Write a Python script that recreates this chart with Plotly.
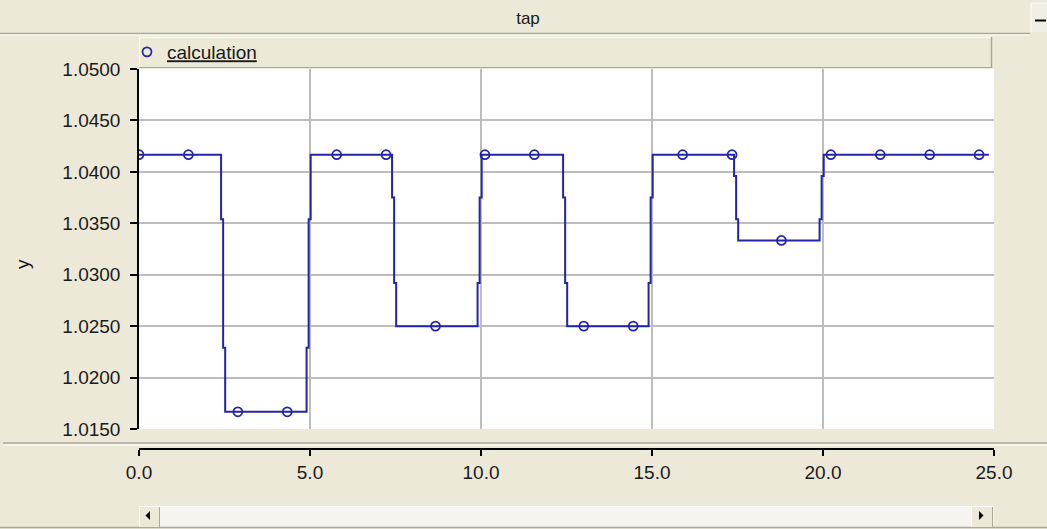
import plotly.graph_objects as go

# ---------------- data ----------------
# plateau levels of the "tap" signal and the times at which it switches
levels = [1.04167, 1.01667, 1.04167, 1.02500, 1.04167, 1.02500, 1.04167, 1.03333, 1.04167]
switch_t = [2.5, 5.0, 7.5, 10.0, 12.5, 15.0, 17.5, 20.0]
# intermediate values visible on each switching edge (two small jogs per edge)
jog1 = [1.0354, 1.0229, 1.0375, 1.0292, 1.0375, 1.0292, 1.0396, 1.0354]
jog2 = [1.0229, 1.0354, 1.0292, 1.0375, 1.0292, 1.0375, 1.0354, 1.0396]
t_start, t_end = 0.0, 24.85
# offsets of the jogs around each switching time
jog_dt = [-0.10, -0.04, 0.02]

# sampled output points (drawn as markers)
marker_x = [0.0, 1.445, 2.89, 4.335, 5.78, 7.225, 8.67, 10.115, 11.56,
            13.005, 14.45, 15.895, 17.34, 18.785, 20.23, 21.675, 23.12, 24.565]
marker_y = [1.04167, 1.04167, 1.01667, 1.01667, 1.04167, 1.04167, 1.02500, 1.04167, 1.04167,
            1.02500, 1.02500, 1.04167, 1.04167, 1.03333, 1.04167, 1.04167, 1.04167, 1.04167]

x_ticks = [0, 5, 10, 15, 20, 25]
y_ticks = [1.015, 1.020, 1.025, 1.030, 1.035, 1.040, 1.045, 1.050]

# ---------------- build step line ----------------
line_x = [t_start]
line_y = [levels[0]]
for i, t in enumerate(switch_t):
    a, b = levels[i], levels[i + 1]
    t1, t2, t3 = t + jog_dt[0], t + jog_dt[1], t + jog_dt[2]
    line_x += [t1, t1, t2, t2, t3, t3]
    line_y += [a, jog1[i], jog1[i], jog2[i], jog2[i], b]
line_x.append(t_end)
line_y.append(levels[-1])

# ---------------- geometry helpers ----------------
W, H = 1047, 529
L, R, T, B = 139, 994, 69, 449      # paper box (px)
PLOT_BOTTOM = 429


def px(x):
    return (x - L) / (R - L)


def py(y):
    return (B - y) / (B - T)


BEIGE = "#ECE9D8"
DARK = "#ACA899"
BLUE = "#2424A8"
GRID = "#BDBDBD"
FONT = "Liberation Sans, Arial, sans-serif"

fig = go.Figure()
fig.add_trace(go.Scatter(x=line_x, y=line_y, mode="lines",
                         line=dict(color=BLUE, width=2), showlegend=False,
                         hoverinfo="skip", xaxis="x", yaxis="y"))
fig.add_trace(go.Scatter(x=marker_x, y=marker_y, mode="markers", name="<u>calculation</u>",
                         marker=dict(symbol="circle-open", size=9, color=BLUE,
                                     line=dict(width=1.7, color=BLUE)),
                         xaxis="x2", yaxis="y"))

shapes = []


def hline(x0, x1, y, color, w=1, layer="below"):
    shapes.append(dict(type="line", xref="paper", yref="paper",
                       x0=px(x0), x1=px(x1), y0=py(y), y1=py(y),
                       line=dict(color=color, width=w), layer=layer))


def vline(x, y0, y1, color, w=1):
    shapes.append(dict(type="line", xref="paper", yref="paper",
                       x0=px(x), x1=px(x), y0=py(y0), y1=py(y1),
                       line=dict(color=color, width=w), layer="below"))


def rect(x0, y0, x1, y1, fill, line_color=None, w=1):
    shapes.append(dict(type="rect", xref="paper", yref="paper",
                       x0=px(x0), x1=px(x1), y0=py(y1), y1=py(y0),
                       fillcolor=fill,
                       line=dict(color=line_color or fill, width=w if line_color else 0),
                       layer="below"))


# title bar bottom edge
hline(0, 1030, 33.5, DARK, 1.5)
hline(0, 1030, 35, "#FFFFFF", 1)
# minimize button
rect(1031, 3, 1047, 32, "#F1EFE4")
vline(1031, 3, 32, "#FFFFFF", 1)
hline(1031, 1047, 3, "#FFFFFF", 1)
hline(1035, 1046, 20.5, "#000000", 2, layer="above")
# legend box
rect(139, 37, 992, 68, BEIGE)
hline(139, 992, 37.5, "#FFFFFF", 1)
vline(139.5, 37, 68, "#FFFFFF", 1)
hline(139, 992, 67.5, DARK, 1)
vline(991.5, 37, 68, DARK, 1.5)
# separator between plot and x-axis strip
hline(3, 1047, 443, DARK, 1.5)
hline(3, 1047, 445, "#FFFFFF", 1)
# scrollbar
rect(139, 506, 994, 527, "#F5F4EF")
hline(139, 994, 506.5, "#FFFFFF", 1)
hline(0, 1047, 527.5, DARK, 1.5)
for bx0, bx1 in [(139, 160), (971, 993)]:
    rect(bx0, 507, bx1, 527, BEIGE)
    vline(bx0 + 0.5, 507, 527, "#FFFFFF", 1)
    vline(bx1 - 0.5, 507, 527, DARK, 1)
# arrows
shapes.append(dict(type="path", xref="paper", yref="paper",
                   path=f"M {px(150)},{py(511)} L {px(150)},{py(520)} L {px(145.5)},{py(515.5)} Z",
                   fillcolor="#000000", line=dict(width=0)))
shapes.append(dict(type="path", xref="paper", yref="paper",
                   path=f"M {px(979)},{py(511)} L {px(979)},{py(520)} L {px(983.5)},{py(515.5)} Z",
                   fillcolor="#000000", line=dict(width=0)))

ydom0 = (B - PLOT_BOTTOM) / (B - T)

fig.update_layout(
    width=W, height=H,
    margin=dict(l=L, r=W - R, t=T, b=H - B, pad=0, autoexpand=False),
    paper_bgcolor=BEIGE, plot_bgcolor="#FFFFFF",
    font=dict(family=FONT, size=18, color="#1A1A1A"),
    title=dict(text="tap", x=528 / W, xref="container", xanchor="center",
               y=1 - 18 / H, yref="container", yanchor="middle",
               font=dict(family=FONT, size=17, color="#1A1A1A")),
    showlegend=True,
    legend=dict(x=127 / W, y=1 - 52 / H, xref="container", yref="container",
                xanchor="left", yanchor="middle",
                bgcolor="rgba(0,0,0,0)", borderwidth=0,
                font=dict(family=FONT, size=19, color="#1A1A1A"),
                itemclick=False, itemdoubleclick=False),
    xaxis=dict(domain=[0, 1], range=[0, 25], tickvals=x_ticks, showticklabels=False,
               ticks="", showgrid=True, gridcolor=GRID, gridwidth=1.5,
               zeroline=False, showline=False, anchor="y", fixedrange=True),
    xaxis2=dict(domain=[0, 1], range=[0, 25], overlaying="x", anchor="free", position=0,
                side="bottom", tickvals=x_ticks, tickformat=".1f",
                ticks="outside", ticklen=6, tickwidth=1.5, tickcolor="#000000",
                showline=True, linecolor="#000000", linewidth=1.5,
                showgrid=False, zeroline=False, fixedrange=True,
                tickfont=dict(family=FONT, size=19, color="#1A1A1A")),
    yaxis=dict(domain=[ydom0, 1], range=[1.015, 1.05], tickvals=y_ticks, tickformat=".4f",
               ticks="outside", ticklen=7, tickwidth=1.5, tickcolor="#000000",
               ticklabelstandoff=6,
               showline=True, linecolor="#000000", linewidth=1.5,
               showgrid=True, gridcolor=GRID, gridwidth=1.5, zeroline=False,
               fixedrange=True,
               tickfont=dict(family=FONT, size=19, color="#1A1A1A")),
    shapes=shapes,
    annotations=[
        dict(text="y", x=px(22), y=py(264), xref="paper", yref="paper",
             xanchor="center", yanchor="middle", textangle=-90,
             showarrow=False, font=dict(family=FONT, size=19, color="#1A1A1A")),
    ],
)

fig.write_html("out.html", config={"displayModeBar": False},
               post_script="document.body.style.margin='0px';")
